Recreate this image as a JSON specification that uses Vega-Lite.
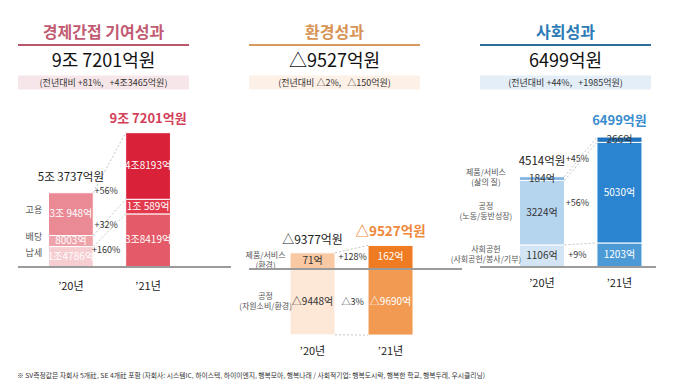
{
"$schema":"https://vega.github.io/schema/vega-lite/v6.json",
"padding":{"left":17,"top":20,"right":5,"bottom":5},
"background":"white",
"datasets":{
 "econH":[{"row":"t","txt":"경제간접 기여성과"},{"row":"s","txt":"9조 7201억원"},{"row":"c","txt":"(전년대비 +81%,\u00a0\u00a0\u00a0+4조3465억원)"}],
 "envH":[{"row":"t","txt":"환경성과"},{"row":"s","txt":"△9527억원"},{"row":"c","txt":"(전년대비 △2%,\u00a0\u00a0\u00a0△150억원)"}],
 "socH":[{"row":"t","txt":"사회성과"},{"row":"s","txt":"6499억원"},{"row":"c","txt":"(전년대비 +44%,\u00a0\u00a0\u00a0+1985억원)"}],
 "econ":[
  {"seg":"납세","ord":1,"name":"납세","v20":14786,"v21":38419,"l20":"1조4786억","l21":"3조8419억","chg":"+160%"},
  {"seg":"배당","ord":2,"name":"배당","v20":8003,"v21":10589,"l20":"8003억","l21":"1조 589억","chg":"+32%"},
  {"seg":"고용","ord":3,"name":"고용","v20":30948,"v21":48193,"l20":"3조 948억","l21":"4조8193억","chg":"+56%","t20":"5조 3737억원","t21":"9조 7201억원"}
 ],
 "env":[
  {"seg":"제품","name":"제품/서비스\n(환경)","v20":71,"v21":162,"l20":"71억","l21":"162억","chg":"+128%","t20":"△9377억원","t21":"△9527억원"},
  {"seg":"공정","name":"공정\n(자원소비/환경)","v20":-9448,"v21":-9690,"l20":"△9448억","l21":"△9690억","chg":"△3%"}
 ],
 "soc":[
  {"seg":"사회공헌","ord":1,"name":"사회공헌\n(사회공헌/봉사/기부)","v20":1106,"v21":1203,"l20":"1106억","l21":"1203억","chg":"+9%"},
  {"seg":"공정","ord":2,"name":"공정\n(노동/동반성장)","v20":3224,"v21":5030,"l20":"3224억","l21":"5030억","chg":"+56%"},
  {"seg":"제품","ord":3,"name":"제품/서비스\n(삶의 질)","v20":184,"v21":266,"l20":"184억","l21":"266억","chg":"+45%","t20":"4514억원","t21":"6499억원"}
 ]
},
"title":{"text":"※  SV측정값은 자회사 5개社, SE 4개社 포함 (자회사: 시스템IC, 하이스텍, 하이이엔지, 행복모아, 행복나래  /  사회적기업: 행복도시락, 행복한 학교, 행복두레, 우시클리닝)","orient":"bottom","anchor":"start","fontSize":6.8,"fontWeight":"normal","color":"#333","offset":17},
"spacing":17,
"vconcat":[
 {"hconcat":[
  {"width":171,"height":75,"data":{"name":"econH"},
   "encoding":{"y":{"field":"row","type":"nominal","scale":{"domain":["t","s","c"],"paddingInner":0,"paddingOuter":0},"axis":null}},
   "layer":[
    {"transform":[{"filter":"datum.row=='c'"}],"mark":{"type":"rect","height":{"band":0.56},"color":"#f7e6e9"}},
    {"transform":[{"filter":"datum.row=='t'"}],"mark":{"type":"rule","color":"#b9586c","strokeWidth":2},"encoding":{"y":{"field":"row","type":"nominal","bandPosition":1}}},
    {"transform":[{"filter":"datum.row=='t'"}],"mark":{"type":"text","fontSize":16,"fontWeight":"bold","color":"#c25a72"},"encoding":{"text":{"field":"txt"}}},
    {"transform":[{"filter":"datum.row=='s'"}],"mark":{"type":"text","fontSize":18,"color":"#111","dy":4},"encoding":{"text":{"field":"txt"}}},
    {"transform":[{"filter":"datum.row=='c'"}],"mark":{"type":"text","fontSize":9,"color":"#333"},"encoding":{"text":{"field":"txt"}}}
   ]},
  {"width":171,"height":75,"data":{"name":"envH"},
   "encoding":{"y":{"field":"row","type":"nominal","scale":{"domain":["t","s","c"],"paddingInner":0,"paddingOuter":0},"axis":null}},
   "layer":[
    {"transform":[{"filter":"datum.row=='c'"}],"mark":{"type":"rect","height":{"band":0.56},"color":"#fdf0e6"}},
    {"transform":[{"filter":"datum.row=='t'"}],"mark":{"type":"rule","color":"#d99a5f","strokeWidth":2},"encoding":{"y":{"field":"row","type":"nominal","bandPosition":1}}},
    {"transform":[{"filter":"datum.row=='t'"}],"mark":{"type":"text","fontSize":16,"fontWeight":"bold","color":"#d89455"},"encoding":{"text":{"field":"txt"}}},
    {"transform":[{"filter":"datum.row=='s'"}],"mark":{"type":"text","fontSize":18,"color":"#111","dy":4},"encoding":{"text":{"field":"txt"}}},
    {"transform":[{"filter":"datum.row=='c'"}],"mark":{"type":"text","fontSize":9,"color":"#333"},"encoding":{"text":{"field":"txt"}}}
   ]},
  {"width":171,"height":75,"data":{"name":"socH"},
   "encoding":{"y":{"field":"row","type":"nominal","scale":{"domain":["t","s","c"],"paddingInner":0,"paddingOuter":0},"axis":null}},
   "layer":[
    {"transform":[{"filter":"datum.row=='c'"}],"mark":{"type":"rect","height":{"band":0.56},"color":"#e3eef8"}},
    {"transform":[{"filter":"datum.row=='t'"}],"mark":{"type":"rule","color":"#2f6d99","strokeWidth":2},"encoding":{"y":{"field":"row","type":"nominal","bandPosition":1}}},
    {"transform":[{"filter":"datum.row=='t'"}],"mark":{"type":"text","fontSize":16,"fontWeight":"bold","color":"#2c7bb6"},"encoding":{"text":{"field":"txt"}}},
    {"transform":[{"filter":"datum.row=='s'"}],"mark":{"type":"text","fontSize":18,"color":"#111","dy":4},"encoding":{"text":{"field":"txt"}}},
    {"transform":[{"filter":"datum.row=='c'"}],"mark":{"type":"text","fontSize":9,"color":"#333"},"encoding":{"text":{"field":"txt"}}}
   ]}
 ],"spacing":60,"bounds":"flush"},
 {"hconcat":[
  {"width":213,"height":152,"data":{"name":"econ"},
   "transform":[
    {"window":[{"op":"sum","field":"v20","as":"c20"},{"op":"sum","field":"v21","as":"c21"}],"sort":[{"field":"ord","order":"ascending"}],"frame":[null,0]},
    {"calculate":"datum.c20-datum.v20/2","as":"m20"},
    {"calculate":"datum.c21-datum.v21/2","as":"m21"},
    {"calculate":"(datum.m20+datum.m21)/2","as":"mc"}
   ],
   "layer":[
    {"transform":[{"fold":["v20","v21"],"as":["yr","val"]},
      {"calculate":"datum.yr=='v20'?datum.c20:datum.c21","as":"top"},
      {"calculate":"datum.top-datum.val","as":"bot"},
      {"calculate":"(datum.top+datum.bot)/2","as":"mid"},
      {"calculate":"datum.yr=='v20'?datum.l20:datum.l21","as":"lab"},
      {"calculate":"datum.yr+'-'+datum.seg","as":"ck"}],
     "layer":[
      {"mark":{"type":"bar","stroke":"white","strokeWidth":1},
       "encoding":{"x":{"field":"yr","type":"nominal","title":null,"scale":{"domain":["v20","v21"],"paddingInner":0.42,"paddingOuter":0.59,"align":0.335},"axis":{"domain":false,"ticks":false,"labelAngle":0,"labelFontSize":11,"labelColor":"#222","labelPadding":13,"labelExpr":"datum.value=='v20'?'’20년':'’21년'"}},
        "y":{"field":"top","type":"quantitative","scale":{"domain":[0,110000],"nice":false},"axis":null},
        "y2":{"field":"bot"},
        "color":{"field":"ck","type":"nominal","legend":null,"scale":{"domain":["v20-납세","v20-배당","v20-고용","v21-납세","v21-배당","v21-고용"],"range":["#f6cdd1","#eea3aa","#e98a95","#e45a69","#e2394d","#d9213a"]}}}},
      {"mark":{"type":"text","fontSize":10,"color":"white"},
       "encoding":{"x":{"field":"yr","type":"nominal","title":null,"scale":{"domain":["v20","v21"],"paddingInner":0.42,"paddingOuter":0.59,"align":0.335}},
        "y":{"field":"mid","type":"quantitative","scale":{"domain":[0,110000],"nice":false}},
        "text":{"field":"lab"}}}
     ]},
    {"mark":{"type":"rule","color":"#c4c4c4","strokeWidth":1,"strokeDash":[2,2]},
     "encoding":{"x":{"datum":"v20","type":"nominal","bandPosition":1,"title":null,"scale":{"domain":["v20","v21"],"paddingInner":0.42,"paddingOuter":0.59,"align":0.335}},"x2":{"datum":"v21","bandPosition":0},
      "y":{"field":"c20","type":"quantitative","scale":{"domain":[0,110000],"nice":false}},"y2":{"field":"c21"}}},
    {"mark":{"type":"text","fontSize":9,"color":"#555","dx":-37,"dy":-4,"lineBreak":"\n"},
     "encoding":{"x":{"datum":"v20","type":"nominal","title":null,"scale":{"domain":["v20","v21"],"paddingInner":0.42,"paddingOuter":0.59,"align":0.335}},
      "y":{"field":"m20","type":"quantitative","scale":{"domain":[0,110000],"nice":false}},"text":{"field":"name"}}},
    {"mark":{"type":"text","fontSize":9,"color":"#333","dx":-42,"dy":1},
     "encoding":{"x":{"datum":"v21","type":"nominal","title":null,"scale":{"domain":["v20","v21"],"paddingInner":0.42,"paddingOuter":0.59,"align":0.335}},
      "y":{"field":"mc","type":"quantitative","scale":{"domain":[0,110000],"nice":false}},"text":{"field":"chg"}}},
    {"transform":[{"filter":"isValid(datum.t20)"}],"mark":{"type":"text","fontSize":11.5,"color":"#222","baseline":"bottom","dy":-10},
     "encoding":{"x":{"datum":"v20","type":"nominal","title":null,"scale":{"domain":["v20","v21"],"paddingInner":0.42,"paddingOuter":0.59,"align":0.335}},
      "y":{"field":"c20","type":"quantitative","scale":{"domain":[0,110000],"nice":false}},"text":{"field":"t20"}}},
    {"transform":[{"filter":"isValid(datum.t21)"}],"mark":{"type":"text","fontSize":13,"fontWeight":"bold","color":"#d33f58","baseline":"bottom","dy":-7},
     "encoding":{"x":{"datum":"v21","type":"nominal","title":null,"scale":{"domain":["v20","v21"],"paddingInner":0.42,"paddingOuter":0.59,"align":0.335}},
      "y":{"field":"c21","type":"quantitative","scale":{"domain":[0,110000],"nice":false}},"text":{"field":"t21"}}},
    {"mark":{"type":"rule","color":"#9b9b9b","strokeWidth":2},"encoding":{"y":{"datum":0,"type":"quantitative","scale":{"domain":[0,110000],"nice":false}}}}
   ]},
  {"width":213,"height":224,"data":{"name":"env"},
   "transform":[
    {"calculate":"(datum.v20<0?-1:1)*20*(sqrt(1+abs(datum.v20)/20)-1)","as":"s20"},
    {"calculate":"(datum.v21<0?-1:1)*20*(sqrt(1+abs(datum.v21)/20)-1)","as":"s21"}
   ],
   "layer":[
    {"transform":[{"fold":["v20","v21"],"as":["yr","val"]},
      {"calculate":"0","as":"bot"},
      {"calculate":"(datum.val<0?-1:1)*20*(sqrt(1+abs(datum.val)/20)-1)","as":"mid"},
      {"calculate":"datum.yr=='v20'?datum.l20:datum.l21","as":"lab"},
      {"calculate":"datum.yr+'-'+datum.seg","as":"ck"}],
     "layer":[
      {"mark":{"type":"bar","stroke":"white","strokeWidth":1},
       "encoding":{"x":{"field":"yr","type":"nominal","title":null,"scale":{"domain":["v20","v21"],"paddingInner":0.423,"paddingOuter":0.577,"align":0.456},"axis":{"domain":false,"ticks":false,"labelAngle":0,"labelFontSize":11,"labelColor":"#222","labelPadding":6,"labelExpr":"datum.value=='v20'?'’20년':'’21년'"}},
        "y":{"field":"val","type":"quantitative","scale":{"type":"symlog","constant":20,"domain":[-14000,36500000],"nice":false},"axis":null},
        "y2":{"field":"bot"},
        "color":{"field":"ck","type":"nominal","legend":null,"scale":{"domain":["v20-제품","v20-공정","v21-제품","v21-공정"],"range":["#f9c9a3","#fde7d6","#ef7b22","#f39a52"]}}}},
      {"mark":{"type":"text","fontSize":10},
       "encoding":{"x":{"field":"yr","type":"nominal","title":null,"scale":{"domain":["v20","v21"],"paddingInner":0.423,"paddingOuter":0.577,"align":0.456}},
        "y":{"field":"mid","type":"quantitative","scale":{"type":"symlog","constant":20,"domain":[-14000,36500000],"nice":false}},
        "text":{"field":"lab"},
        "color":{"condition":{"test":"datum.yr=='v20'","value":"#333"},"value":"white"}}}
     ]},
    {"mark":{"type":"rule","color":"#c4c4c4","strokeWidth":1,"strokeDash":[2,2]},
     "encoding":{"x":{"datum":"v20","type":"nominal","bandPosition":1,"title":null,"scale":{"domain":["v20","v21"],"paddingInner":0.423,"paddingOuter":0.577,"align":0.456}},"x2":{"datum":"v21","bandPosition":0},
      "y":{"field":"v20","type":"quantitative","scale":{"type":"symlog","constant":20,"domain":[-14000,36500000],"nice":false}},"y2":{"field":"v21"}}},
    {"mark":{"type":"text","fontSize":8,"color":"#555","dx":-47,"dy":-5,"lineBreak":"\n"},
     "encoding":{"x":{"datum":"v20","type":"nominal","title":null,"scale":{"domain":["v20","v21"],"paddingInner":0.423,"paddingOuter":0.577,"align":0.456}},
      "y":{"field":"s20","type":"quantitative","scale":{"type":"symlog","constant":20,"domain":[-14000,36500000],"nice":false}},"text":{"field":"name"}}},
    {"mark":{"type":"text","fontSize":9,"color":"#333","dx":-38},
     "encoding":{"x":{"datum":"v21","type":"nominal","title":null,"scale":{"domain":["v20","v21"],"paddingInner":0.423,"paddingOuter":0.577,"align":0.456}},
      "y":{"field":"s21","type":"quantitative","scale":{"type":"symlog","constant":20,"domain":[-14000,36500000],"nice":false}},"text":{"field":"chg"}}},
    {"transform":[{"filter":"isValid(datum.t20)"}],"mark":{"type":"text","fontSize":12,"color":"#222","baseline":"bottom","dy":-6},
     "encoding":{"x":{"datum":"v20","type":"nominal","title":null,"scale":{"domain":["v20","v21"],"paddingInner":0.423,"paddingOuter":0.577,"align":0.456}},
      "y":{"field":"v20","type":"quantitative","scale":{"type":"symlog","constant":20,"domain":[-14000,36500000],"nice":false}},"text":{"field":"t20"}}},
    {"transform":[{"filter":"isValid(datum.t21)"}],"mark":{"type":"text","fontSize":13.5,"fontWeight":"bold","color":"#f0883a","baseline":"bottom","dy":-6},
     "encoding":{"x":{"datum":"v21","type":"nominal","title":null,"scale":{"domain":["v20","v21"],"paddingInner":0.423,"paddingOuter":0.577,"align":0.456}},
      "y":{"field":"v21","type":"quantitative","scale":{"type":"symlog","constant":20,"domain":[-14000,36500000],"nice":false}},"text":{"field":"t21"}}},
    {"mark":{"type":"rule","color":"#9b9b9b","strokeWidth":2},"encoding":{"y":{"datum":0,"type":"quantitative","scale":{"type":"symlog","constant":20,"domain":[-14000,36500000],"nice":false}}}}
   ]},
  {"width":176,"height":152,"data":{"name":"soc"},
   "transform":[
    {"window":[{"op":"sum","field":"v20","as":"c20"},{"op":"sum","field":"v21","as":"c21"}],"sort":[{"field":"ord","order":"ascending"}],"frame":[null,0]},
    {"calculate":"datum.c20-datum.v20/2","as":"m20"},
    {"calculate":"datum.c21-datum.v21/2","as":"m21"},
    {"calculate":"(datum.m20+datum.m21)/2","as":"mc"}
   ],
   "layer":[
    {"transform":[{"fold":["v20","v21"],"as":["yr","val"]},
      {"calculate":"datum.yr=='v20'?datum.c20:datum.c21","as":"top"},
      {"calculate":"datum.top-datum.val","as":"bot"},
      {"calculate":"(datum.top+datum.bot)/2","as":"mid"},
      {"calculate":"datum.yr=='v20'?datum.l20:datum.l21","as":"lab"},
      {"calculate":"datum.yr+'-'+datum.seg","as":"ck"}],
     "layer":[
      {"mark":{"type":"bar","stroke":"white","strokeWidth":1},
       "encoding":{"x":{"field":"yr","type":"nominal","title":null,"scale":{"domain":["v20","v21"],"paddingInner":0.419,"paddingOuter":0.345,"align":0.738},"axis":{"domain":false,"ticks":false,"labelAngle":0,"labelFontSize":11,"labelColor":"#222","labelPadding":10,"labelExpr":"datum.value=='v20'?'’20년':'’21년'"}},
        "y":{"field":"top","type":"quantitative","scale":{"domain":[0,7600],"nice":false},"axis":null},
        "y2":{"field":"bot"},
        "color":{"field":"ck","type":"nominal","legend":null,"scale":{"domain":["v20-사회공헌","v20-공정","v20-제품","v21-사회공헌","v21-공정","v21-제품"],"range":["#d3e5f4","#b5d4ee","#7fb2de","#4b9ad6","#2a84cf","#1f73bd"]}}}},
      {"mark":{"type":"text","fontSize":10},
       "encoding":{"x":{"field":"yr","type":"nominal","title":null,"scale":{"domain":["v20","v21"],"paddingInner":0.419,"paddingOuter":0.345,"align":0.738}},
        "y":{"field":"mid","type":"quantitative","scale":{"domain":[0,7600],"nice":false}},
        "text":{"field":"lab"},
        "color":{"condition":{"test":"datum.yr=='v20' || datum.val<400","value":"#333"},"value":"white"}}}
     ]},
    {"mark":{"type":"rule","color":"#c4c4c4","strokeWidth":1,"strokeDash":[2,2]},
     "encoding":{"x":{"datum":"v20","type":"nominal","bandPosition":1,"title":null,"scale":{"domain":["v20","v21"],"paddingInner":0.419,"paddingOuter":0.345,"align":0.738}},"x2":{"datum":"v21","bandPosition":0},
      "y":{"field":"c20","type":"quantitative","scale":{"domain":[0,7600],"nice":false}},"y2":{"field":"c21"}}},
    {"mark":{"type":"text","fontSize":8,"color":"#555","dx":-56,"dy":-6,"lineBreak":"\n"},
     "encoding":{"x":{"datum":"v20","type":"nominal","title":null,"scale":{"domain":["v20","v21"],"paddingInner":0.419,"paddingOuter":0.345,"align":0.738}},
      "y":{"field":"m20","type":"quantitative","scale":{"domain":[0,7600],"nice":false}},"text":{"field":"name"}}},
    {"mark":{"type":"text","fontSize":9,"color":"#333","dx":-42},
     "encoding":{"x":{"datum":"v21","type":"nominal","title":null,"scale":{"domain":["v20","v21"],"paddingInner":0.419,"paddingOuter":0.345,"align":0.738}},
      "y":{"field":"mc","type":"quantitative","scale":{"domain":[0,7600],"nice":false}},"text":{"field":"chg"}}},
    {"transform":[{"filter":"isValid(datum.t20)"}],"mark":{"type":"text","fontSize":11.5,"color":"#222","baseline":"bottom","dy":-10},
     "encoding":{"x":{"datum":"v20","type":"nominal","title":null,"scale":{"domain":["v20","v21"],"paddingInner":0.419,"paddingOuter":0.345,"align":0.738}},
      "y":{"field":"c20","type":"quantitative","scale":{"domain":[0,7600],"nice":false}},"text":{"field":"t20"}}},
    {"transform":[{"filter":"isValid(datum.t21)"}],"mark":{"type":"text","fontSize":13,"fontWeight":"bold","color":"#3a8dce","baseline":"bottom","dy":-9},
     "encoding":{"x":{"datum":"v21","type":"nominal","title":null,"scale":{"domain":["v20","v21"],"paddingInner":0.419,"paddingOuter":0.345,"align":0.738}},
      "y":{"field":"c21","type":"quantitative","scale":{"domain":[0,7600],"nice":false}},"text":{"field":"t21"}}},
    {"mark":{"type":"rule","color":"#9b9b9b","strokeWidth":2},"encoding":{"y":{"datum":0,"type":"quantitative","scale":{"domain":[0,7600],"nice":false}}}}
   ]}
 ],"spacing":18,"bounds":"flush","resolve":{"scale":{"color":"independent"}}}
],
"config":{"view":{"stroke":null},"font":"Noto Sans CJK KR"}
}
